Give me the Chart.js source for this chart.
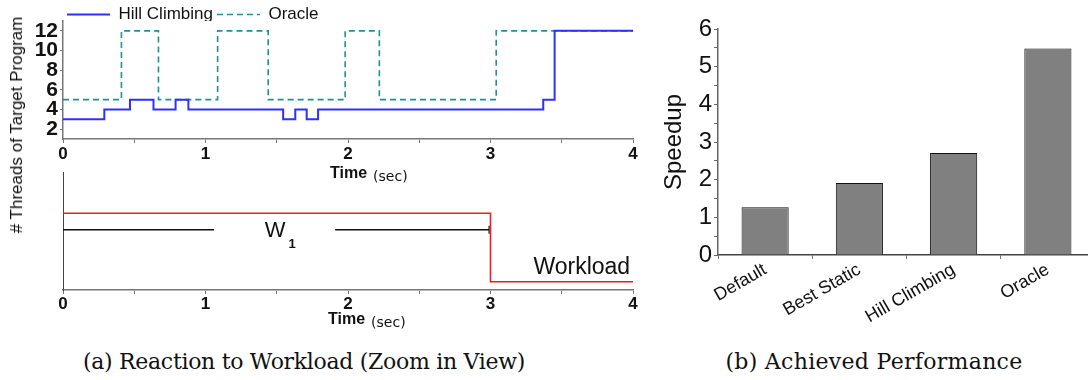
<!DOCTYPE html>
<html>
<head>
<meta charset="utf-8">
<script src="https://cdn.jsdelivr.net/npm/chart.js@4.4.1/dist/chart.umd.min.js"></script>
<style>
    html, body { margin: 0; padding: 0; background: #fff; width: 1088px; height: 380px; overflow: hidden; }
    body { position: relative; font-family: 'Liberation Sans', Arial, sans-serif; color: #111; }
    .box { position: absolute; }
    #threads-box { left: 0; top: 0; width: 650px; height: 182px; }
    #workload-box { left: 0; top: 165px; width: 650px; height: 170px; }
    #speedup-box { left: 650px; top: 0; width: 450px; height: 340px; }
    .ytitle { position: absolute; left: 17px; top: 125px; transform: translate(-50%, -50%) rotate(-90deg); font-size: 17px; white-space: nowrap; }
    .xtitle { position: absolute; white-space: nowrap; line-height: 1; }
    .xtitle b { font-size: 16px; }
    .xtitle span { font-family: 'DejaVu Sans', sans-serif; font-size: 14px; margin-left: 6px; position: relative; top: 3px; }
    .caption { position: absolute; top: 361px; transform: translate(-50%, -50%); font-family: 'DejaVu Serif', serif; font-size: 22px; white-space: nowrap; }
</style>
</head>
<body>
<div class="box" id="threads-box"><canvas id="threads-chart"></canvas></div>
<div class="box" id="workload-box"><canvas id="workload-chart"></canvas></div>
<div class="box" id="speedup-box"><canvas id="speedup-chart"></canvas></div>

<div class="ytitle"># Threads of Target Program</div>
<div class="xtitle" style="left:330px; top:165px;"><b>Time</b><span>(sec)</span></div>
<div class="xtitle" style="left:328px; top:311px;"><b>Time</b><span>(sec)</span></div>
<div class="caption" style="left:304px; letter-spacing:-0.3px;">(a) Reaction to Workload (Zoom in View)</div>
<div class="caption" style="left:874px; letter-spacing:0.3px;">(b) Achieved Performance</div>

<script>
// ---- data ----
const timeTicks = [0, 0.5, 1, 1.5, 2, 2.5, 3, 3.5, 4];
const threadTicks = [2, 4, 6, 8, 10, 12];

const hillTimes   = [0, 0.29, 0.47, 0.635, 0.79, 0.88, 1.545, 1.63, 1.71, 1.79, 3.37, 3.45, 4];
const hillThreads = [3, 4,    5,    4,     5,    4,    3,     4,    3,    4,    5,    12,   12];

const oracleTimes   = [0, 0.41, 0.67, 1.085, 1.44, 1.98, 2.22, 3.04, 4];
const oracleThreads = [5, 12,   5,    12,    5,    12,   5,    12,   12];

// workload panel (no units on the y axis)
const workloadTimes = [0, 3, 4];
const workloadLevel = [6.5, 0.7, 0.7];
const phaseTimes = [0, 1.06, 1.5, 1.91, 2.99];
const phaseLevel = [5.1, 5.1, null, 5.1, 5.1];

const methods = ['Default', 'Best Static', 'Hill Climbing', 'Oracle'];
const speedup = [1.27, 1.91, 2.71, 5.48];
const speedupTicks = [0, 0.5, 1, 1.5, 2, 2.5, 3, 3.5, 4, 4.5, 5, 5.5, 6];

Chart.defaults.font.family = "'Liberation Sans', Arial, sans-serif";
Chart.defaults.color = '#111';
Chart.defaults.animation = false;

const pts = (xs, ys) => xs.map((x, i) => ({x: x, y: ys[i]}));
const intLabel = (v) => Number.isInteger(v) ? v : '';
const fixedTicks = (list) => (axis) => { axis.ticks = list.map(v => ({value: v})); };

// legend sits tight against the plot, trim the space chart.js reserves for it
const legendTrim = {
    id: 'legendTrim',
    beforeInit(chart, args, opts) {
        if (!chart.legend) return;
        const fit = chart.legend.fit;
        chart.legend.fit = function () {
            fit.call(this);
            this.height -= (opts.cut || 0);
        };
    }
};

// text notes placed in data coordinates
const notes = {
    id: 'notes',
    afterDatasetsDraw(chart, args, opts) {
        const {ctx, scales} = chart;
        (opts.items || []).forEach(n => {
            ctx.save();
            ctx.font = n.font;
            ctx.fillStyle = n.color || '#111';
            ctx.textAlign = n.align || 'left';
            ctx.textBaseline = n.baseline || 'alphabetic';
            ctx.fillText(n.text, scales.x.getPixelForValue(n.x), scales.y.getPixelForValue(n.y));
            ctx.restore();
        });
    }
};

const timeAxis = (height, pad) => ({
    type: 'linear',
    min: 0,
    max: 4,
    afterBuildTicks: fixedTicks(timeTicks),
    afterFit: (s) => { s.height = height; },
    border: {color: '#777', width: 1.5},
    grid: {drawOnChartArea: false, color: '#777', tickLength: 4},
    ticks: {
        autoSkip: false,
        maxRotation: 0,
        padding: pad,
        font: {size: 17, weight: 'bold'},
        callback: intLabel
    }
});

// top: threads over time
new Chart(document.getElementById('threads-chart'), {
    type: 'line',
    data: {
        datasets: [
            {
                label: 'Hill Climbing',
                data: pts(hillTimes, hillThreads),
                stepped: true,
                borderColor: '#2f2fff',
                backgroundColor: 'transparent',
                borderWidth: 2,
                pointRadius: 0
            },
            {
                label: 'Oracle',
                data: pts(oracleTimes, oracleThreads),
                stepped: true,
                borderColor: '#239090',
                backgroundColor: 'transparent',
                borderWidth: 1.6,
                borderDash: [6, 4],
                pointRadius: 0
            }
        ]
    },
    options: {
        responsive: true,
        maintainAspectRatio: false,
        layout: {padding: {top: 2, left: 0, right: 17, bottom: 0}},
        plugins: {
            legend: {
                position: 'top',
                align: 'start',
                fullSize: false,
                labels: {
                    // zero-height box = a line sample; 43px keeps the dashes of the
                    // outgoing and returning stroke on top of each other
                    boxWidth: 43,
                    boxHeight: 0,
                    padding: 4,
                    color: '#111',
                    font: {size: 17}
                }
            },
            legendTrim: {cut: 12},
            tooltip: {enabled: false}
        },
        scales: {
            x: timeAxis(43, 1),
            y: {
                min: 1,
                max: 13,
                afterBuildTicks: fixedTicks(threadTicks),
                afterFit: (s) => { s.width = 63; },
                border: {color: '#777', width: 1.5},
                grid: {drawOnChartArea: false, color: '#777', tickLength: 3},
                ticks: {autoSkip: false, padding: 2, font: {size: 21, weight: 'bold'}}
            }
        }
    },
    plugins: [legendTrim]
});

// bottom: workload phases
new Chart(document.getElementById('workload-chart'), {
    type: 'line',
    data: {
        datasets: [
            {
                label: 'Workload',
                data: pts(workloadTimes, workloadLevel),
                stepped: true,
                borderColor: '#ee1c1c',
                borderWidth: 1.6,
                pointRadius: 0
            },
            {
                label: 'W1',
                data: pts(phaseTimes, phaseLevel),
                borderColor: '#111',
                borderWidth: 1.4,
                spanGaps: false,
                pointStyle: 'line',
                rotation: 90,
                pointBorderColor: '#111',
                pointBorderWidth: 1.2,
                pointRadius: (c) => c.dataIndex === phaseTimes.length - 1 ? 4 : 0
            }
        ]
    },
    options: {
        responsive: true,
        maintainAspectRatio: false,
        layout: {padding: {top: 7, left: 0, right: 17, bottom: 0}},
        plugins: {
            legend: {display: false},
            tooltip: {enabled: false},
            notes: {
                items: [
                    {text: 'W', x: 1.488, y: 5.04, font: '22px "Liberation Sans", Arial', align: 'center', baseline: 'middle'},
                    {text: '1', x: 1.607, y: 3.9, font: 'bold 13px "Liberation Sans", Arial', align: 'center', baseline: 'middle'},
                    {text: 'Workload', x: 3.98, y: 1.36, font: '23px "Liberation Sans", Arial', align: 'right'}
                ]
            }
        },
        scales: {
            x: timeAxis(45, 0),
            y: {
                min: 0,
                max: 10,
                afterFit: (s) => { s.width = 63; },
                border: {color: '#444', width: 1, dash: [1, 2]},
                grid: {display: false},
                ticks: {display: false}
            }
        }
    },
    plugins: [notes]
});

// right: achieved speedup
new Chart(document.getElementById('speedup-chart'), {
    type: 'bar',
    data: {
        labels: methods,
        datasets: [{
            label: 'Speedup',
            data: speedup,
            backgroundColor: '#808080',
            borderColor: '#111',
            borderWidth: 1,
            categoryPercentage: 1,
            barPercentage: 0.5
        }]
    },
    options: {
        responsive: true,
        maintainAspectRatio: false,
        layout: {padding: {top: 29, left: 0, right: 5, bottom: 0}},
        plugins: {
            legend: {display: false},
            tooltip: {enabled: false}
        },
        scales: {
            x: {
                afterFit: (s) => { s.height = 85; },
                border: {color: '#444', width: 1.5},
                grid: {drawOnChartArea: false, color: '#777', tickLength: 4},
                ticks: {
                    minRotation: 30,
                    maxRotation: 30,
                    padding: 0,
                    font: {size: 18}
                }
            },
            y: {
                min: 0,
                max: 6,
                afterBuildTicks: fixedTicks(speedupTicks),
                afterFit: (s) => { s.width = 68; },
                border: {color: '#666', width: 1.5},
                grid: {drawOnChartArea: false, color: '#666', tickLength: 4},
                ticks: {autoSkip: false, padding: 2, font: {size: 24}, callback: intLabel},
                title: {display: true, text: 'Speedup', font: {size: 24}, padding: {top: 10, bottom: 0}}
            }
        }
    }
});
</script>
</body>
</html>
